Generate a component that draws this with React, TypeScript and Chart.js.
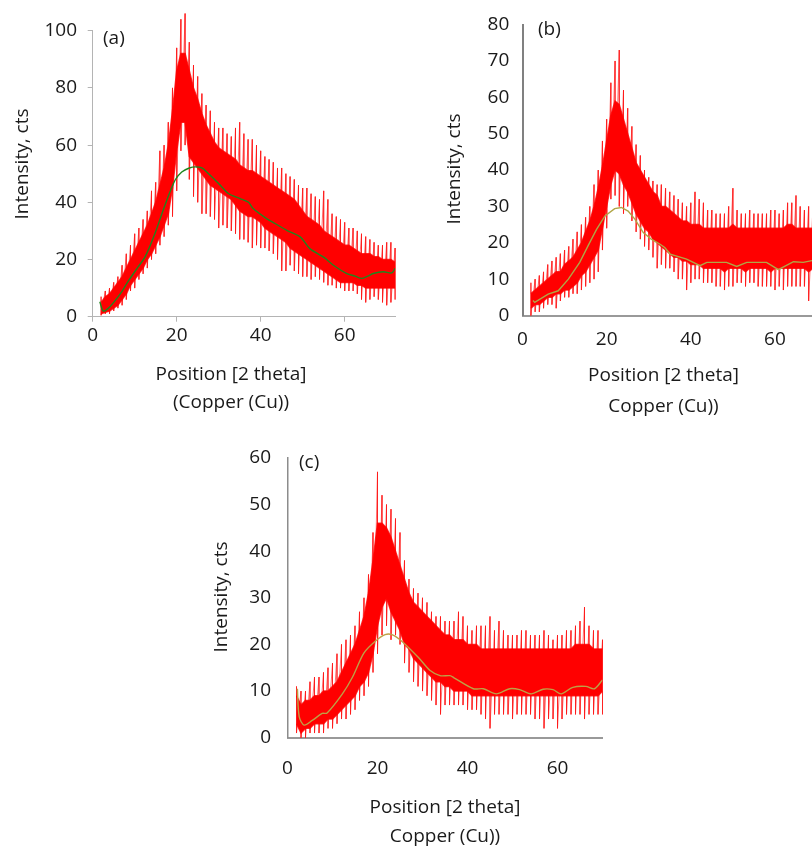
import React, { useEffect, useRef } from 'react';
import { Chart, registerables } from 'chart.js';

Chart.register(...registerables);

const FONT = "'Open Sans', 'Noto Sans', sans-serif";
const TEXT = '#1a1a1a';

// ---------- Panel (a) ----------
const anglesA = [2,3,4,5,6,7,8,9,10,11,12,13,14,15,16,17,18,19,20,21,22,23,24,25,26,27,28,29,30,31,32,33,34,35,36,37,38,39,40,41,42,43,44,45,46,47,48,49,50,51,52,53,54,55,56,57,58,59,60,61,62,63,64,65,66,67,68,69,70,71,72];
const coreLoA = [1,1.5,2,3,4,6,8,11,13,15,17,20,22,25,28,32,36,45,58,68,68,56,54,52,50,48,46,45,44,43,42,41,39,37,36,35,35,34,33,31,30,29,28,27,26,24,23,22,21,20,19,18,17,16,15,14,13,12,12,12,12,11,11,10,10,10,10,10,10,10,10];
const coreHiA = [5,7,8,10,12,14,17,20,23,26,29,32,36,40,46,52,60,72,86,92,92,86,80,76,71,67,64,61,59,58,57,56,55,53,52,51,51,50,49,48,47,46,45,44,43,42,41,39,37,35,34,33,32,30,29,28,27,26,25,25,24,23,22,22,22,21,21,20,20,20,19];
const spikeLoA = [0.5,1,1,2,3,4,6,9,10,13,15,17,20,22,25,28,32,35,44,58,60,48,42,40,36,36,35,34,31,32,31,30,29,27,27,26,24,25,24,24,23,22,20,16,16,18,16,15,14,14,13,14,13,12,11,11,10,10,9,9,9,8,6,5,6,7,6,5,4,5,6];
const spikeHiA = [7,9,10,12,14,18,22,25,29,31,34,37,44,47,58,60,68,80,94,104,106,96,88,84,78,74,72,68,66,66,64,63,66,68,64,62,62,60,58,56,55,54,52,52,50,49,48,46,45,45,43,42,41,44,41,36,35,34,33,31,31,30,29,28,27,26,25,25,26,26,24];
const fitXA = [1.7,2.5,3.7,5,6.9,8.5,10.8,12.5,14.8,17.2,19.6,21.2,23,24.5,26,27.6,29,30.8,32.4,35.1,37.1,38.2,41.4,43.5,46.2,49.4,51.7,54.9,57.3,60.5,62.5,64,65.5,66.8,69.2,71.2,72];
const fitYA = [5.2,2,2.9,5,8.7,12.5,17.4,21,29,39,47.7,50.6,52,52.4,52,50,48,45.3,43,41.3,40,37.8,34.3,32.5,30.2,27.9,23.8,20.9,18,15.1,14.2,13.4,14.2,15.1,15.7,15.3,16.9];
const yTicksA = [0,20,40,60,80,100];

// ---------- Panel (b) ----------
const anglesB = [2,3,4,5,6,7,8,9,10,11,12,13,14,15,16,17,18,19,20,21,22,23,24,25,26,27,28,29,30,31,32,33,34,35,36,37,38,39,40,41,42,43,44,45,46,47,48,49,50,51,52,53,54,55,56,57,58,59,60,61,62,63,64,65,66,67,68,69];
const coreLoB = [2,3,3,4,5,5,6,6,7,7,8,9,11,12,14,16,18,24,30,36,40,39,36,34,31,28,26,24,23,21,20,19,18,17,16,16,15,15,14,14,14,13,13,13,13,13,12,13,13,13,13,12,13,13,13,13,13,12,13,13,13,13,13,13,13,13,12,13];
const coreHiB = [6,7,8,9,10,11,12,12,14,15,16,18,20,23,26,30,35,41,48,55,59,58,54,50,46,42,40,38,36,34,33,30,30,29,28,27,26,26,25,25,25,24,24,24,24,24,24,24,25,24,24,24,24,24,24,24,24,24,24,24,24,25,25,24,24,24,24,24];
const spikeLoB = [0,1,1,2,3,3,2,4,5,5,6,6,7,8,9,10,12,18,24,32,33,30,28,30,26,23,21,19,18,16,13,14,13,13,12,10,10,7,9,10,10,9,9,9,8,8,7,8,8,9,9,8,9,9,8,8,8,8,7,8,7,8,8,8,8,8,4,3];
const spikeHiB = [9,10,11,12,14,15,16,17,18,19,21,23,25,27,30,36,40,48,54,64,70,73,62,57,52,47,44,40,38,37,36,36,35,34,33,32,31,30,31,34,32,31,29,29,28,28,28,30,35,29,28,28,29,28,28,28,28,29,29,28,29,31,31,33,30,29,30,29];
const fitXB = [2.5,2.9,6.1,8.5,10.9,13.6,15.6,17.6,19.6,21.9,23.5,25.1,26.7,28.7,30.6,32.7,33.8,35.1,39,42.2,43.8,48.5,50.9,53.3,58,60.8,64.4,66.7,68.8];
const fitYB = [4.1,3.6,5.9,6.8,10,14.6,19.2,23.7,27.4,29.4,29.7,28.7,26.5,22.8,21,19.6,18.7,16.9,15.5,13.7,14.6,14.6,13.5,14.6,14.6,12.6,14.8,14.6,15.1];
const yTicksB = [0,10,20,30,40,50,60,70,80];

// ---------- Panel (c) ----------
const anglesC = [2,3,4,5,6,7,8,9,10,11,12,13,14,15,16,17,18,19,20,21,22,23,24,25,26,27,28,29,30,31,32,33,34,35,36,37,38,39,40,41,42,43,44,45,46,47,48,49,50,51,52,53,54,55,56,57,58,59,60,61,62,63,64,65,66,67,68,69,70];
const coreLoC = [3,1,2,2,3,3,3,4,4,5,6,7,8,9,11,12,14,18,24,28,30,27,25,23,20,19,17,16,15,14,13,12,12,11,11,10,10,10,10,9,9,9,9,9,9,9,9,9,9,9,9,9,9,9,9,9,9,9,9,9,9,9,9,9,9,9,9,9,10];
const coreHiC = [9,7,8,8,9,9,10,10,11,12,14,16,18,20,23,26,31,38,46,46,45,43,40,37,34,31,29,28,27,26,25,24,23,22,22,21,21,21,20,20,20,19,19,19,19,19,19,19,19,19,19,19,19,19,19,19,19,19,19,19,19,19,20,20,20,20,19,19,19];
const spikeLoC = [1,0,0,1,1,1,1,2,2,3,4,4,5,6,8,9,11,14,18,22,24,21,22,20,16,14,12,11,10,9,8,7,5,7,7,7,7,7,6,6,6,5,4,2,5,5,5,5,4,5,5,5,5,4,4,2,4,4,2,4,5,5,5,5,4,5,5,5,5];
const spikeHiC = [11,10,10,12,13,13,14,15,16,18,20,21,22,24,27,30,35,44,57,52,50,49,47,44,38,34,32,31,30,29,27,26,26,25,25,25,27,26,24,23,24,24,24,26,23,25,23,22,22,22,23,23,22,22,22,23,22,21,22,22,23,23,24,25,28,24,23,23,21];
const fitXC = [2.2,2.6,3.7,5.5,7.7,8.8,12.2,14.4,17,19.5,21.7,23.2,25.4,29.1,31.7,33.9,36.1,36.9,41.3,43.5,46.4,49.4,51.6,54.2,56.8,59,60.8,63.4,66.3,68.2,70];
const fitYC = [10.5,4.5,2.7,3.7,5.2,5.3,9.4,12.9,18.2,20.7,22.1,22.1,20.7,17.2,14.4,13.3,13.3,12.9,10.5,10.5,9.4,10.5,10.3,9.4,10.4,10.3,9.4,10.8,11,10.5,12.4];
const yTicksC = [0,10,20,30,40,50,60];

const xTicks = [0, 20, 40, 60];
const yTitle = 'Intensity, cts';
const xTitle1 = 'Position [2 theta]';
const xTitleA2 = '(Copper (Cu))';
const xTitleB2 = 'Copper (Cu))';

type TextItem = { text: string; x: number; y: number; rot?: number; align?: CanvasTextAlign };

type PanelCfg = {
  left: number; top: number; width: number; height: number;
  pad: { left: number; right: number; top: number; bottom: number };
  yW: number; xH: number;
  xMax: number; yMax: number; yTicks: number[];
  angles: number[]; coreLo: number[]; coreHi: number[]; spikeLo: number[]; spikeHi: number[];
  fitX: number[]; fitY: number[]; fitColor: string; fitTension: number;
  yPad: number; xPad: number; tickMarks: boolean;
  yBorder: { color: string; width: number }; xBorder: { color: string; width: number };
  texts: TextItem[];
};

function textPlugin(items: TextItem[]) {
  return {
    id: 'panelText',
    afterDraw(chart: any) {
      const ctx = chart.ctx as CanvasRenderingContext2D;
      ctx.save();
      ctx.fillStyle = TEXT;
      ctx.font = `19px ${FONT}`;
      for (const it of items) {
        ctx.save();
        ctx.translate(it.x, it.y);
        if (it.rot) ctx.rotate(it.rot);
        ctx.textAlign = it.align || 'center';
        ctx.textBaseline = 'middle';
        ctx.fillText(it.text, 0, 0);
        ctx.restore();
      }
      ctx.restore();
    },
  };
}

function Panel({ cfg }: { cfg: PanelCfg }) {
  const ref = useRef<HTMLCanvasElement>(null);
  useEffect(() => {
    if (!ref.current) return;
    const pts = (xs: number[], ys: number[]) => xs.map((x, i) => ({ x, y: ys[i] }));
    // noisy trace: at each sampled angle the signal swings between its read extremes
    const trace: { x: number; y: number }[] = [];
    cfg.angles.forEach((x, i) => {
      trace.push({ x, y: cfg.spikeHi[i] });
      trace.push({ x, y: cfg.spikeLo[i] });
    });
    const tickFont = { family: FONT, size: 19 };
    const gridOpts = cfg.tickMarks
      ? { display: true, offset: false, drawOnChartArea: false, drawTicks: true, tickLength: 5, color: '#b4b4b4', lineWidth: 1 }
      : { display: false, offset: false, drawTicks: false };
    const chart = new Chart(ref.current, {
      type: 'line',
      data: {
        datasets: [
          {
            data: pts(cfg.fitX, cfg.fitY),
            borderColor: cfg.fitColor,
            borderWidth: 1.4,
            pointRadius: 0,
            tension: cfg.fitTension,
            fill: false,
            order: 0,
          },
          {
            data: pts(cfg.angles, cfg.coreHi),
            borderColor: 'rgba(255,0,0,0.8)',
            borderWidth: 1.5,
            backgroundColor: '#ff0000',
            pointRadius: 0,
            tension: 0,
            fill: '+1',
            order: 1,
          },
          {
            data: pts(cfg.angles, cfg.coreLo),
            borderColor: 'rgba(255,0,0,0.8)',
            borderWidth: 1.5,
            pointRadius: 0,
            tension: 0,
            fill: false,
            order: 1,
          },
          {
            data: trace,
            borderColor: 'rgba(255,20,20,0.6)',
            borderWidth: 1,
            pointRadius: 0,
            tension: 0,
            fill: false,
            order: 2,
            clip: false,
          } as any,
        ],
      },
      options: {
        responsive: false,
        animation: false,
        events: [],
        devicePixelRatio: 1,
        layout: { padding: cfg.pad },
        plugins: { legend: { display: false }, tooltip: { enabled: false } },
        scales: {
          x: {
            type: 'linear',
            offset: false,
            min: 0,
            max: cfg.xMax,
            afterBuildTicks: (s: any) => { s.ticks = xTicks.map((v) => ({ value: v })); },
            afterFit: (s: any) => { s.height = cfg.xH; },
            ticks: { font: tickFont, color: TEXT, padding: cfg.xPad, maxRotation: 0, autoSkip: false },
            grid: gridOpts as any,
            border: { display: true, color: cfg.xBorder.color, width: cfg.xBorder.width },
          },
          y: {
            type: 'linear',
            offset: false,
            min: 0,
            max: cfg.yMax,
            afterBuildTicks: (s: any) => { s.ticks = cfg.yTicks.map((v) => ({ value: v })); },
            afterFit: (s: any) => { s.width = cfg.yW; },
            ticks: { font: tickFont, color: TEXT, padding: cfg.yPad, autoSkip: false },
            grid: gridOpts as any,
            border: { display: true, color: cfg.yBorder.color, width: cfg.yBorder.width },
          },
        },
      },
      plugins: [textPlugin(cfg.texts)],
    } as any);
    return () => chart.destroy();
  }, [cfg]);
  return (
    <canvas
      ref={ref}
      width={cfg.width}
      height={cfg.height}
      style={{ position: 'absolute', left: cfg.left, top: cfg.top, width: cfg.width, height: cfg.height }}
    />
  );
}

const HALF_PI = -Math.PI / 2;

const panelA: PanelCfg = {
  left: 0, top: 0, width: 410, height: 425,
  pad: { left: 0, right: 14.9, top: 30.7, bottom: 58.3 },
  yW: 92.7, xH: 50,
  xMax: 72, yMax: 100, yTicks: yTicksA,
  angles: anglesA, coreLo: coreLoA, coreHi: coreHiA, spikeLo: spikeLoA, spikeHi: spikeHiA,
  fitX: fitXA, fitY: fitYA, fitColor: 'rgb(30,135,30)', fitTension: 0.3,
  yPad: 10.7, xPad: 2, tickMarks: true,
  yBorder: { color: '#b4b4b4', width: 1 }, xBorder: { color: '#b4b4b4', width: 1 },
  texts: [
    { text: yTitle, x: 23, y: 164, rot: HALF_PI },
    { text: xTitle1, x: 231, y: 375 },
    { text: xTitleA2, x: 231, y: 403 },
    { text: '(a)', x: 103, y: 39, align: 'left' },
  ],
};

const panelB: PanelCfg = {
  left: 420, top: 0, width: 392, height: 425,
  pad: { left: 0, right: 0, top: 22.7, bottom: 59.5 },
  yW: 102.5, xH: 50,
  xMax: 68.8, yMax: 80, yTicks: yTicksB,
  angles: anglesB, coreLo: coreLoB, coreHi: coreHiB, spikeLo: spikeLoB, spikeHi: spikeHiB,
  fitX: fitXB, fitY: fitYB, fitColor: 'rgb(176,166,70)', fitTension: 0,
  yPad: 13.2, xPad: 12.4, tickMarks: false,
  yBorder: { color: '#808080', width: 2 }, xBorder: { color: '#999999', width: 2 },
  texts: [
    { text: yTitle, x: 35, y: 169, rot: HALF_PI },
    { text: xTitle1, x: 243.5, y: 376 },
    { text: xTitleB2, x: 243.5, y: 406.7 },
    { text: '(b)', x: 118, y: 30, align: 'left' },
  ],
};

const panelC: PanelCfg = {
  left: 200, top: 430, width: 420, height: 421,
  pad: { left: 0, right: 17.5, top: 25, bottom: 63.3 },
  yW: 87.5, xH: 50,
  xMax: 70, yMax: 60, yTicks: yTicksC,
  angles: anglesC, coreLo: coreLoC, coreHi: coreHiC, spikeLo: spikeLoC, spikeHi: spikeHiC,
  fitX: fitXC, fitY: fitYC, fitColor: 'rgb(190,160,70)', fitTension: 0.3,
  yPad: 16.5, xPad: 19.2, tickMarks: false,
  yBorder: { color: '#8c8c8c', width: 1.5 }, xBorder: { color: '#999999', width: 2 },
  texts: [
    { text: yTitle, x: 21.7, y: 167, rot: HALF_PI },
    { text: xTitle1, x: 245, y: 377.7 },
    { text: xTitleB2, x: 245, y: 406.7 },
    { text: '(c)', x: 99, y: 32.7, align: 'left' },
  ],
};

export default function App() {
  return (
    <div style={{ position: 'absolute', left: 0, top: 0, width: 812, height: 851, overflow: 'hidden', background: '#fff' }}>
      <Panel cfg={panelA} />
      <Panel cfg={panelB} />
      <Panel cfg={panelC} />
    </div>
  );
}
